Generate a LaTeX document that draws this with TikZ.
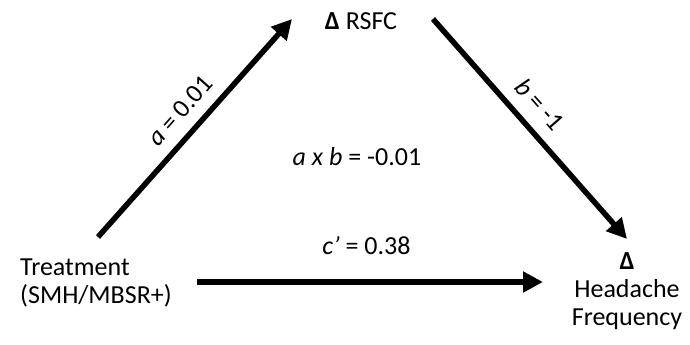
\documentclass[tikz,border=0pt]{standalone}
\usepackage{fontspec}
\setmainfont{Carlito}
\usetikzlibrary{arrows.meta,positioning}

\begin{document}
\begin{tikzpicture}[
  x=1pt, y=-1pt,
  txt/.style={font=\fontsize{26}{28}\selectfont, inner sep=2pt},
  arrow/.style={-{Triangle[length=20pt,width=20pt]}, line width=5.5pt},
]
  \useasboundingbox (0,0) rectangle (690,345);
  \node[txt] (rsfc) at (361,21) {\textbf{Δ} RSFC};
  \node[txt, align=left] (treat) at (96,283) {Treatment\\(SMH/MBSR+)};
  \node[txt, align=center] (head) at (627,291) {\textbf{Δ}\\Headache\\Frequency};
  \node[txt] (ab) at (357,157) {\textit{a x b} = -0.01};
  \coordinate (aS) at (98,237);
  \coordinate (aE) at (292,19);
  \coordinate (bS) at (433,19);
  \coordinate (bE) at (627,239);
  \coordinate (cS) at (197,282);
  \coordinate (cE) at (543,282);
  \draw[arrow] (aS) -- node[txt, sloped, above=9pt, pos=0.51] (alab) {\textit{a} = 0.01} (aE);
  \draw[arrow] (bS) -- node[txt, sloped, above=10pt, pos=0.46] (blab) {\textit{b} = -1} (bE);
  \draw[arrow] (cS) -- node[txt, above=23pt, pos=0.49] (clab) {\textit{c’} = 0.38} (cE);
\end{tikzpicture}
\end{document}
